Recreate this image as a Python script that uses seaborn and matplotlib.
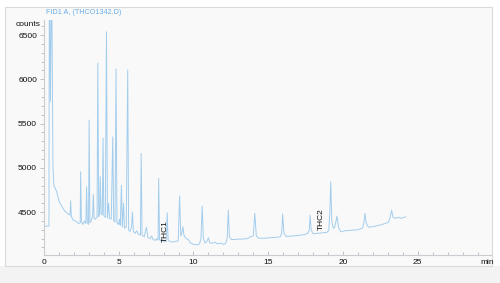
import matplotlib
matplotlib.use("Agg")
import matplotlib.pyplot as plt
from matplotlib.patches import Rectangle
from matplotlib.ticker import MultipleLocator
import seaborn as sns
import pandas as pd

# ---- data ----
time_min = [
    0.00, 0.32, 0.33, 0.36, 0.43, 0.51, 0.60, 0.66, 0.72, 0.85, 1.00, 1.07, 1.20, 1.40, 1.60,
    1.74, 1.78, 1.83, 1.95, 2.10, 2.20, 2.30, 2.42, 2.45, 2.50, 2.60, 2.70, 2.80, 2.85, 2.90,
    2.98, 3.02, 3.07, 3.15, 3.25, 3.30, 3.35, 3.45, 3.55, 3.60, 3.66, 3.72, 3.76, 3.82, 3.90,
    3.95, 4.00, 4.10, 4.18, 4.24, 4.32, 4.38, 4.50, 4.60, 4.66, 4.75, 4.82, 4.88, 4.98, 5.05,
    5.10, 5.18, 5.24, 5.32, 5.38, 5.50, 5.60, 5.66, 5.75, 5.85, 5.92, 5.98, 6.10, 6.20, 6.30,
    6.45, 6.50, 6.56, 6.70, 6.85, 6.95, 7.10, 7.20, 7.30, 7.45, 7.55, 7.63, 7.67, 7.73, 7.85,
    7.95, 8.05, 8.18, 8.24, 8.30, 8.40, 8.55, 8.70, 8.85, 8.98, 9.07, 9.15, 9.22, 9.29, 9.36,
    9.50, 9.65, 9.80, 10.00, 10.20, 10.40, 10.50, 10.58, 10.66, 10.78, 10.90, 11.00, 11.10, 11.30, 11.45,
    11.60, 11.80, 12.00, 12.15, 12.25, 12.33, 12.40, 12.55, 12.80, 13.00, 13.30, 13.60, 13.80, 14.00, 14.10,
    14.20, 14.35, 14.80, 15.20, 15.50, 15.80, 15.90, 15.96, 16.05, 16.20, 16.60, 17.00, 17.40, 17.65, 17.75,
    17.80, 17.87, 18.00, 18.30, 18.60, 18.90, 19.05, 19.12, 19.18, 19.25, 19.35, 19.45, 19.60, 19.70, 19.85,
    20.20, 20.60, 21.00, 21.30, 21.40, 21.47, 21.55, 21.70, 22.00, 22.40, 22.80, 23.05, 23.15, 23.25, 23.35,
    23.50, 23.70, 23.90, 24.20,
]
counts = [
    4340, 4342, 4342, 7300, 5750, 7300, 5000, 4800, 4780, 4729, 4630, 4600, 4560, 4510, 4480,
    4465, 4628, 4450, 4410, 4400, 4390, 4370, 4380, 4955, 4390, 4360, 4400, 4370, 4786, 4380,
    4360, 5540, 4380, 4400, 4450, 4700, 4430, 4420, 4450, 6184, 4450, 4500, 4900, 4480, 4470,
    5336, 4460, 4440, 6537, 4430, 4600, 4430, 4420, 5350, 4400, 4390, 6116, 4380, 4360, 4420,
    4350, 4805, 4330, 4600, 4320, 4330, 6105, 4300, 4280, 4330, 4500, 4280, 4260, 4290, 4250,
    4240, 5163, 4240, 4220, 4330, 4210, 4200, 4230, 4190, 4180, 4200, 4180, 4881, 4190, 4170,
    4190, 4165, 4170, 4492, 4190, 4170, 4160, 4165, 4170, 4175, 4684, 4230, 4260, 4334, 4240,
    4200, 4190, 4150, 4135, 4130, 4140, 4200, 4568, 4200, 4150, 4170, 4210, 4150, 4150, 4160,
    4140, 4150, 4135, 4145, 4200, 4523, 4220, 4190, 4190, 4195, 4195, 4200, 4220, 4230, 4485,
    4230, 4205, 4205, 4210, 4215, 4220, 4260, 4477, 4260, 4225, 4230, 4235, 4245, 4260, 4300,
    4466, 4300, 4255, 4260, 4265, 4270, 4290, 4500, 4842, 4400, 4316, 4330, 4455, 4330, 4277,
    4290, 4295, 4300, 4320, 4380, 4485, 4380, 4330, 4335, 4350, 4370, 4385, 4440, 4520, 4440,
    4430, 4440, 4430, 4447,
]
peak_labels = ["THC1", "THC2"]
peak_label_times = [8.15, 18.58]
peak_label_counts = [4160, 4297]
x_ticks = [0, 5, 10, 15, 20, 25]
y_ticks = [4500, 5000, 5500, 6000, 6500]
title_text = "FID1 A, (THCO1342.D)"

# ---- figure ----
sns.set_theme(style="white")
plt.rcParams["font.family"] = ["Liberation Sans", "DejaVu Sans"]

W, H = 500, 283
fig = plt.figure(figsize=(W / 100, H / 100), dpi=100, facecolor="white")

def px(x0, y0, x1, y1):
    return (x0 / W, 1 - y1 / H, (x1 - x0) / W, (y1 - y0) / H)

# bottom gray strip and panel
l, b, w, h = px(0, 266, 500, 283)
fig.patches.append(Rectangle((l, b), w, h, transform=fig.transFigure,
                             facecolor="#f3f3f3", edgecolor="none", zorder=-2))
l, b, w, h = px(5, 7, 492, 265.5)
fig.patches.append(Rectangle((l, b), w, h, transform=fig.transFigure,
                             facecolor="#f9f9fa", edgecolor="#dadada", linewidth=0.8, zorder=-1))

ax = fig.add_axes(px(44, 20, 491, 255))
ax.set_facecolor("none")
ax.set_zorder(1)

df = pd.DataFrame({"time": time_min, "counts": counts})
sns.lineplot(data=df, x="time", y="counts", sort=False, estimator=None,
             color="#a3cdec", linewidth=0.7, ax=ax)

ax.set_xlim(0, 29.9)
ax.set_ylim(4015, 6670)
ax.set_xticks(x_ticks)
ax.set_yticks(y_ticks)
ax.xaxis.set_minor_locator(MultipleLocator(1))
ax.yaxis.set_minor_locator(MultipleLocator(100))
ax.set_xlabel("")
ax.set_ylabel("")

for s in ["top", "right"]:
    ax.spines[s].set_visible(False)
for s in ["left", "bottom"]:
    ax.spines[s].set_color("#c9cdd2")
    ax.spines[s].set_linewidth(0.8)

ax.tick_params(axis="x", which="both", direction="in", colors="#b5b9be",
               labelcolor="#111111", labelsize=6, pad=3)
ax.tick_params(axis="x", which="major", length=3, width=0.6)
ax.tick_params(axis="x", which="minor", length=2, width=0.6)
ax.tick_params(axis="y", which="both", direction="out", colors="#b5b9be",
               labelcolor="#111111", labelsize=6, pad=2)
ax.tick_params(axis="y", which="major", length=3, width=0.6)
ax.tick_params(axis="y", which="minor", length=2, width=0.6)
ax.tick_params(bottom=True, left=True, which="both")

for lab, t, c in zip(peak_labels, peak_label_times, peak_label_counts):
    ax.text(t, c, lab, rotation=90, ha="center", va="bottom", fontsize=6, color="#111111")

fig.text(40 / W, 1 - 25 / H, "counts", ha="right", va="center", fontsize=6, color="#111111")
fig.text(487 / W, 1 - 263 / H, "min", ha="center", va="center", fontsize=6, color="#111111")
fig.text(46 / W, 1 - 13 / H, title_text, ha="left", va="center", fontsize=5.2, color="#6aaee6")

fig.savefig("out.png", dpi=100, facecolor=fig.get_facecolor())
